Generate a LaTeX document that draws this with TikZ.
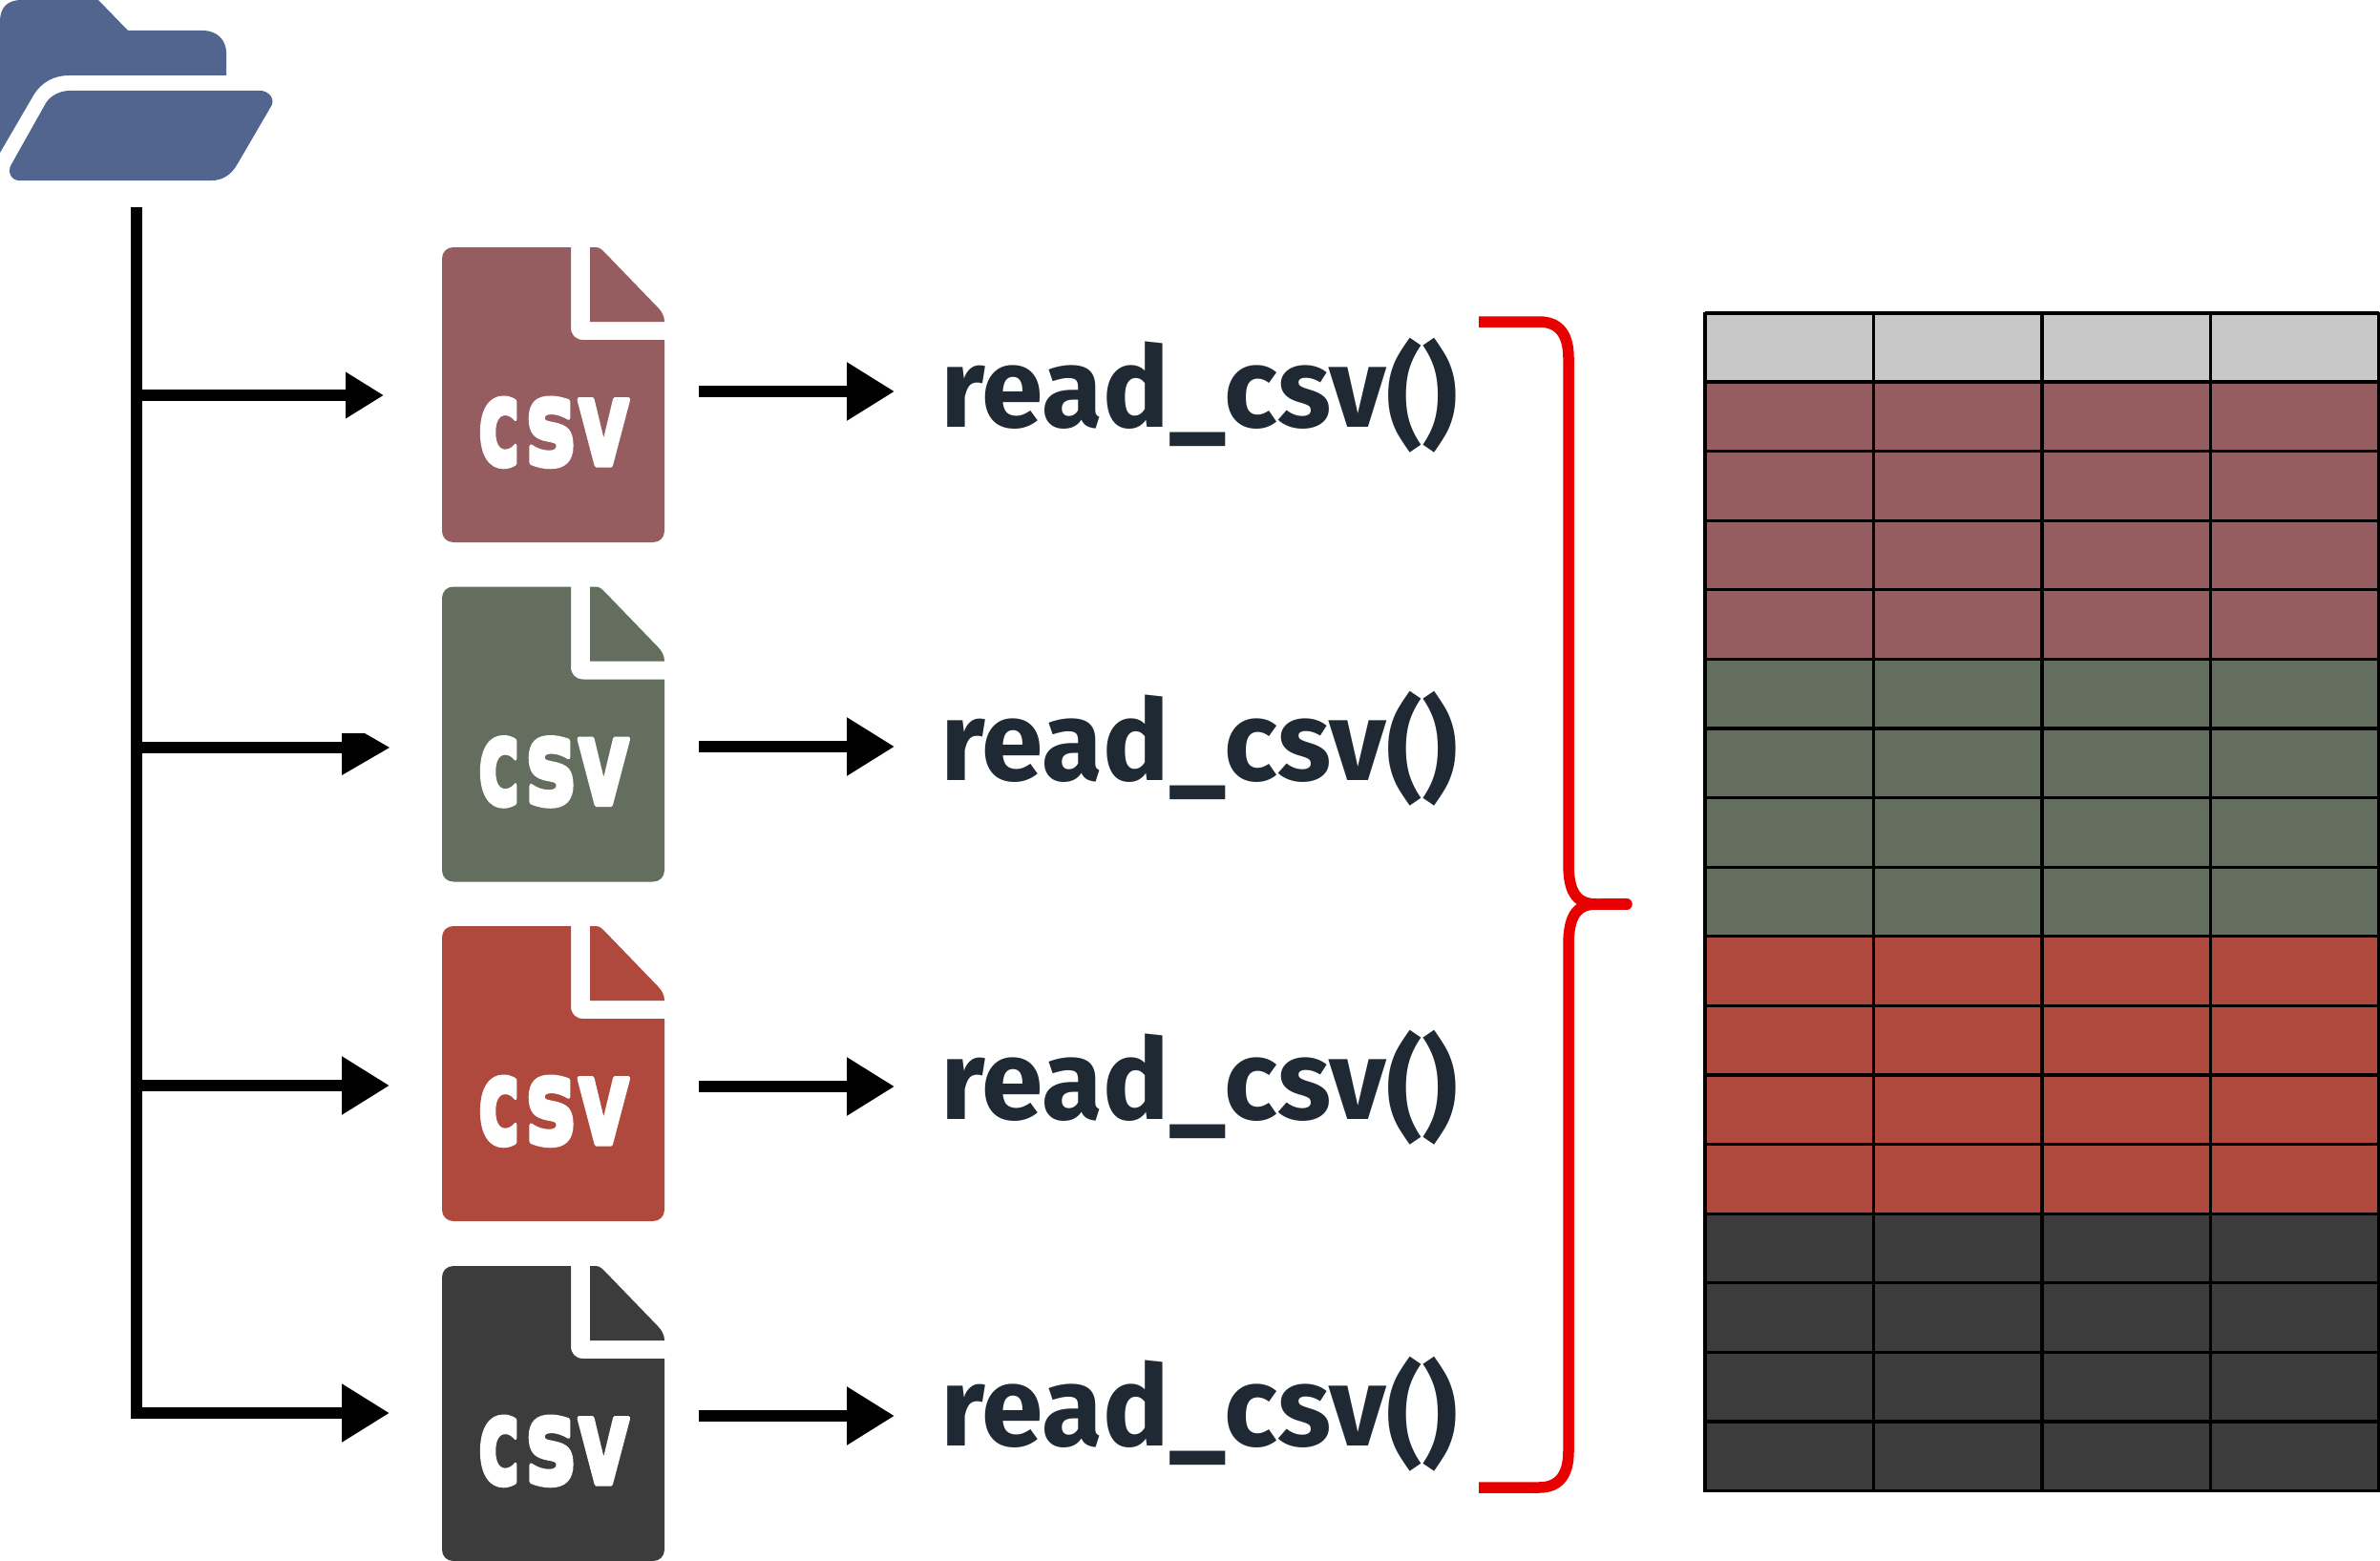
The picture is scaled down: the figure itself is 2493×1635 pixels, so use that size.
\documentclass[tikz,border=0pt]{standalone}
\usepackage{fontspec}
\usetikzlibrary{arrows.meta}
\newfontfamily\readfont{Fira Sans}
\newfontfamily\csvfont{DejaVu Sans}
\definecolor{folderblue}{HTML}{51658F}
\definecolor{rowa}{HTML}{955D60}
\definecolor{rowb}{HTML}{636E5E}
\definecolor{rowc}{HTML}{AF483D}
\definecolor{rowd}{HTML}{3C3C3C}
\definecolor{headgray}{HTML}{C8C8C8}
\definecolor{codeink}{HTML}{1F2933}
\definecolor{bracered}{HTML}{E80000}
\tikzset{
  treeline/.style={line width=12pt,draw=black},
  bigarrow/.style={line width=12pt,draw=black,-{Triangle[length=50pt,width=58pt]}},
  firstarrow/.style={line width=12pt,draw=black,-{Triangle[length=40pt,width=46pt]}},
  readlabel/.style={inner sep=0pt,anchor=base west,text=codeink,font=\readfont\bfseries\fontsize{118}{118}\selectfont},
  csvlabel/.style={inner sep=0pt,anchor=base west,text=white,font=\csvfont\bfseries\fontsize{125}{125}\selectfont},
  bracepath/.style={line width=11.5pt,draw=bracered},
  cellgrid/.style={line width=3.3pt,draw=black}
}
\newcommand{\csvword}{\special{pdf:code 2 Tr 1 j 5 w 1 1 1 RG}\scalebox{0.59}[1]{c}\kern6pt\scalebox{0.70}[1]{s}\kern2pt\scalebox{0.67}[1]{v}\special{pdf:code 0 Tr 0.4 w 0 0 0 RG}}
\newcommand{\readword}{\scalebox{0.985}[1]{read\_csv\lower8pt\hbox{()}}}
\newcommand{\fileicon}[3]{%
  \begin{scope}[shift={(0,#2)}]
    \fill[#1] (475,259) -- (598,259) -- (598,343) .. controls (598,351) and (603,356) .. (611,356) -- (696,356) -- (696,556)
      .. controls (696,563) and (691,568) .. (684,568) -- (475,568) .. controls (468,568) and (463,563) .. (463,556) -- (463,271)
      .. controls (463,264) and (468,259) .. (475,259) -- cycle;
    \fill[#1] (618,259) -- (624,259) .. controls (628,259) and (631,262) .. (633,264) -- (689,322)
      .. controls (693,326) and (696,331) .. (696,337) -- (618,337) -- cycle;
    \node[csvlabel] (csv#3) at (501,487) {\csvword};
  \end{scope}}
\begin{document}
\begin{tikzpicture}[x=1pt,y=-1pt]
\useasboundingbox (0,0) rectangle (2493,1635);
% folder
\fill[folderblue] (0,22) .. controls (0,8) and (8,0) .. (22,0) -- (103,0) -- (134,32) -- (213,32)
  .. controls (227,32) and (237,42) .. (237,55) -- (237,79) -- (72,79)
  .. controls (57,79) and (43,86) .. (35,100) -- (0,160) -- cycle;
\fill[folderblue] (73,95) -- (273,95) .. controls (281,95) and (290,104) .. (283,113) -- (248,173)
  .. controls (242,183) and (233,189) .. (222,189) -- (20,189) .. controls (12,189) and (7,180) .. (12,172)
  -- (48,108) .. controls (53,100) and (63,95) .. (73,95) -- cycle;
% files
\fileicon{rowa}{0}{1}
\fileicon{rowb}{355.5}{2}
\fileicon{rowc}{711}{3}
\fileicon{rowd}{1067}{4}
% labels
\node[readlabel] (read1) at (985,447) {\readword};
\node[readlabel] (read2) at (985,817) {\readword};
\node[readlabel] (read3) at (985,1172) {\readword};
\node[readlabel] (read4) at (985,1514) {\readword};
% coordinates
\coordinate (trunktop) at (142.5,217);
\coordinate (trunkend) at (142.5,1486);
\coordinate (ba) at (137,414); \coordinate (ea) at (402,414);
\coordinate (bb) at (137,783); \coordinate (eb) at (358,783);
\coordinate (bc) at (137,1137); \coordinate (ec) at (408,1137);
\coordinate (bd) at (137,1480); \coordinate (ed) at (408,1480);
\coordinate (ra) at (732,410); \coordinate (sa) at (937,410);
\coordinate (rb) at (732,782); \coordinate (sb) at (937,782);
\coordinate (rc) at (732,1138); \coordinate (sc) at (937,1138);
\coordinate (rd) at (732,1483); \coordinate (sd) at (937,1483);
% tree
\draw[treeline] (trunktop) -- (trunkend);
\draw[firstarrow] (ba) -- (ea);
\draw[treeline] (bb) -- (eb);
\fill[black] (358,768) -- (382,768) -- (408,783) -- (358,812) -- cycle;
\draw[bigarrow] (bc) -- (ec);
\draw[bigarrow] (bd) -- (ed);
% read arrows
\draw[bigarrow] (ra) -- (sa);
\draw[bigarrow] (rb) -- (sb);
\draw[bigarrow] (rc) -- (sc);
\draw[bigarrow] (rd) -- (sd);
% brace
\coordinate (bracetop) at (1549,337);
\coordinate (bracemid) at (1704,947);
\coordinate (bracebot) at (1549,1558);
\draw[bracepath] (bracetop) -- (1612,337) .. controls (1633,337) and (1643,350) .. (1643,375) -- (1643,905)
  .. controls (1643,932) and (1650,947) .. (1672,947) -- (bracemid);
\draw[bracepath] (bracebot) -- (1612,1558) .. controls (1633,1558) and (1643,1545) .. (1643,1520) -- (1643,990)
  .. controls (1643,962) and (1650,947) .. (1672,947) -- (bracemid);
\draw[bracepath,line cap=round] (1680,947) -- (bracemid);
% table
\fill[headgray] (1786,328) rectangle (2492,400);
\fill[rowa] (1786,400) rectangle (2492,690.6);
\fill[rowb] (1786,690.6) rectangle (2492,981);
\fill[rowc] (1786,981) rectangle (2492,1271.3);
\fill[rowd] (1786,1271.3) rectangle (2492,1561.6);
\foreach \r in {0,...,16} {
  \draw[cellgrid] (1786,400+72.6*\r) -- (2492,400+72.6*\r);
}
\draw[cellgrid] (1786,328) -- (2492,328);
\foreach \c in {0,...,4} {
  \draw[cellgrid] (1786+176.5*\c,326.5) -- (1786+176.5*\c,1563);
}
\end{tikzpicture}
\end{document}
